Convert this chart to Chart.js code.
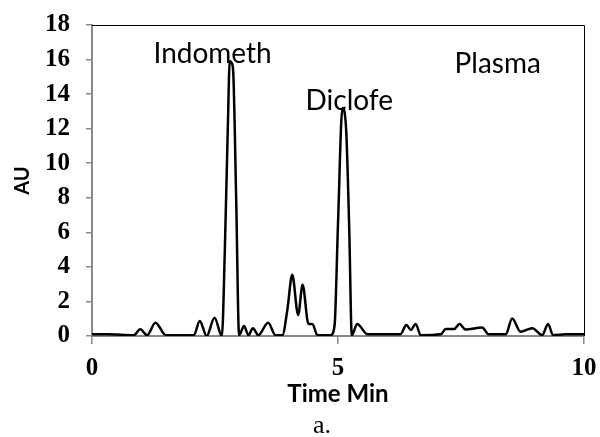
<!DOCTYPE html>
<html>
<head>
<meta charset="utf-8">
<script src="https://cdn.jsdelivr.net/npm/chart.js@4/dist/chart.umd.min.js"></script>
<style>
html,body{margin:0;padding:0;background:#fff;}
#wrap{width:600px;height:437px;position:relative;}
</style>
</head>
<body>
<div id="wrap"><canvas id="c" width="600" height="437"></canvas></div>
<script>
// Time (min) and absorbance (AU)
const timeMin = [0, 0.3, 0.85, 0.98, 1.12, 1.29, 1.5, 2.07, 2.19, 2.33, 2.49, 2.64, 2.70, 2.76, 2.80, 2.84, 2.87, 2.93, 2.99,
  3.09, 3.18, 3.27, 3.38, 3.58, 3.73, 3.87, 3.97, 4.07, 4.19, 4.28, 4.40, 4.48, 4.58, 4.85, 4.93, 5.00, 5.09, 5.13, 5.17, 5.23, 5.28,
  5.39, 5.60, 6.27, 6.39, 6.48, 6.58, 6.68, 7.09, 7.19, 7.36, 7.47, 7.59, 7.93, 8.06, 8.41, 8.54, 8.71, 8.95, 9.15, 9.27, 9.37, 9.63, 10];
const absorbance = [0.1, 0.1, 0.05, 0.39, 0.05, 0.77, 0.05, 0.05, 0.87, 0, 1.06, 0, 5, 12, 15.9, 15.8, 15.3, 8, 0.05,
  0.58, 0.05, 0.45, 0.05, 0.77, 0.05, 0.05, 1.5, 3.54, 1.22, 2.96, 0.7, 0.7, 0.05, 0.05, 0.6, 6.5, 13.2, 13.0, 11.7, 6, 0.05,
  0.7, 0.1, 0.1, 0.64, 0.35, 0.7, 0.05, 0.1, 0.4, 0.4, 0.7, 0.37, 0.49, 0.1, 0.1, 1.02, 0.25, 0.45, 0.05, 0.7, 0.05, 0.1, 0.1];
const xTicks = [0, 5, 10];
const yTicks = [0, 2, 4, 6, 8, 10, 12, 14, 16, 18];
const peakLabels = ["Indometh", "Diclofe", "Plasma"];
const peakLabelX = [1.25, 4.34, 7.37];
const peakLabelY = [15.8, 13.1, 15.2];
const xTitle = "Time Min";
const yTitle = "AU";
const caption = "a.";

const points = timeMin.map((t, i) => ({x: t, y: absorbance[i]}));

const extras = {
  id: 'extras',
  beforeDatasetsDraw(chart) {
    const {ctx, chartArea: a} = chart;
    ctx.save();
    ctx.strokeStyle = '#000';
    ctx.lineWidth = 1;
    ctx.beginPath();
    ctx.moveTo(a.left, a.top + 0.5);
    ctx.lineTo(a.right + 0.5, a.top + 0.5);
    ctx.lineTo(a.right + 0.5, a.bottom);
    ctx.stroke();
    ctx.restore();
  },
  afterDraw(chart) {
    const {ctx, scales: {x, y}} = chart;
    ctx.save();
    ctx.fillStyle = '#000';
    ctx.textBaseline = 'alphabetic';
    ctx.textAlign = 'left';
    ctx.font = '28px Lato, "Open Sans", sans-serif';
    peakLabels.forEach((s, i) => {
      ctx.fillText(s, x.getPixelForValue(peakLabelX[i]), y.getPixelForValue(peakLabelY[i]));
    });
    ctx.textAlign = 'center';
    ctx.font = '26px "Liberation Serif", serif';
    ctx.fillText(caption, 322, 433);
    ctx.restore();
  }
};

new Chart(document.getElementById('c'), {
  type: 'scatter',
  data: {
    datasets: [{
      data: points,
      showLine: true,
      borderColor: '#000',
      borderWidth: 2.5,
      pointRadius: 0,
      cubicInterpolationMode: 'monotone',
      fill: false
    }]
  },
  options: {
    responsive: false,
    animation: false,
    events: [],
    layout: {padding: {left: 0, right: 16, top: 25, bottom: 0}},
    plugins: {legend: {display: false}, tooltip: {enabled: false}},
    scales: {
      x: {
        type: 'linear', min: 0, max: 10,
        afterBuildTicks(s) { s.ticks = xTicks.map(v => ({value: v})); },
        afterFit(s) { s.height = 101; s.paddingLeft = 0; s.paddingRight = 0; },
        grid: {display: true, drawOnChartArea: false, drawTicks: true, tickLength: 8, color: '#888', lineWidth: 1.5},
        border: {display: true, color: '#888', width: 2},
        ticks: {color: '#000', padding: 10, maxRotation: 0, font: {family: '"Liberation Serif", serif', size: 25, weight: 'bold'}},
        title: {display: true, text: xTitle, color: '#000', padding: {top: 0, bottom: 28},
          font: {family: 'Lato, "Open Sans", sans-serif', size: 24, weight: 'bold'}}
      },
      y: {
        min: 0, max: 18,
        afterBuildTicks(s) { s.ticks = yTicks.map(v => ({value: v})); },
        afterFit(s) { s.width = 92; s.paddingTop = 0; s.paddingBottom = 0; },
        grid: {display: true, drawOnChartArea: false, drawTicks: true, tickLength: 6, color: '#888', lineWidth: 1.5},
        border: {display: true, color: '#888', width: 2},
        ticks: {color: '#000', padding: 16, font: {family: '"Liberation Serif", serif', size: 25, weight: 'bold'}},
        title: {display: true, text: yTitle, color: '#000', padding: {top: 11, bottom: 0},
          font: {family: 'Lato, "Open Sans", sans-serif', size: 20, weight: 'bold'}}
      }
    }
  },
  plugins: [extras]
});
</script>
</body>
</html>
